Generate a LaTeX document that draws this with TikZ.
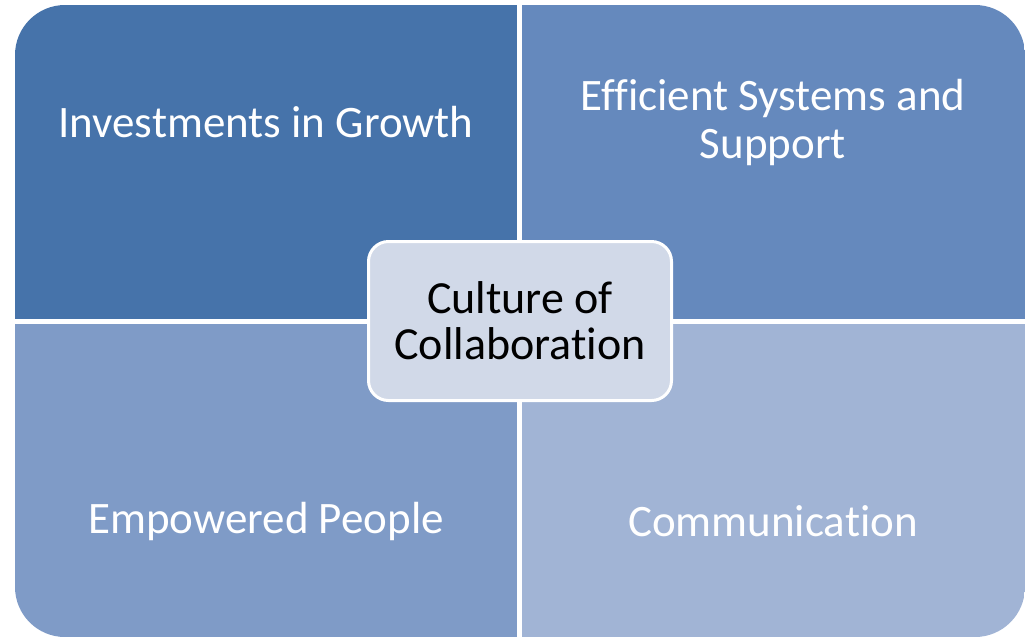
\documentclass[tikz,border=0pt]{standalone}
\usepackage{fontspec}
\setmainfont{Carlito}[RawFeature=-liga]
\definecolor{quadA}{HTML}{4673AA}
\definecolor{quadB}{HTML}{6589BD}
\definecolor{quadC}{HTML}{7F9BC7}
\definecolor{quadD}{HTML}{A1B4D5}
\definecolor{core}{HTML}{D1D9E8}
\begin{document}
\begin{tikzpicture}[x=1pt,y=-1pt,
    label/.style={text=white,align=center,font=\fontsize{45}{48}\selectfont},
    centre/.style={fill=core,draw=white,line width=3pt,rounded corners=20pt,
        minimum width=303pt,minimum height=159pt,align=center,
        font=\fontsize{46}{46}\selectfont}]
        \useasboundingbox (0,0) rectangle (1028,638);
        \begin{scope}
            \clip[rounded corners=50pt] (15,5) rectangle (1025,637);
            \fill[quadA] (15,5)    rectangle (517,319);
            \fill[quadB] (522,5)   rectangle (1025,319);
            \fill[quadC] (15,324)  rectangle (517,637);
            \fill[quadD] (522,324) rectangle (1025,637);
        \end{scope}
        \node[label] (growth)  at (266,122) {Investments in Growth};
        \node[label] (systems) at (773,122) {Efficient Systems and\\Support};
        \node[label] (people)  at (266,521) {Empowered People};
        \node[label] (comm)    at (773,521) {Communication};
        \node[centre] (culture) at (520,321) {Culture of\\Collaboration};
    \end{tikzpicture}
\end{document}
